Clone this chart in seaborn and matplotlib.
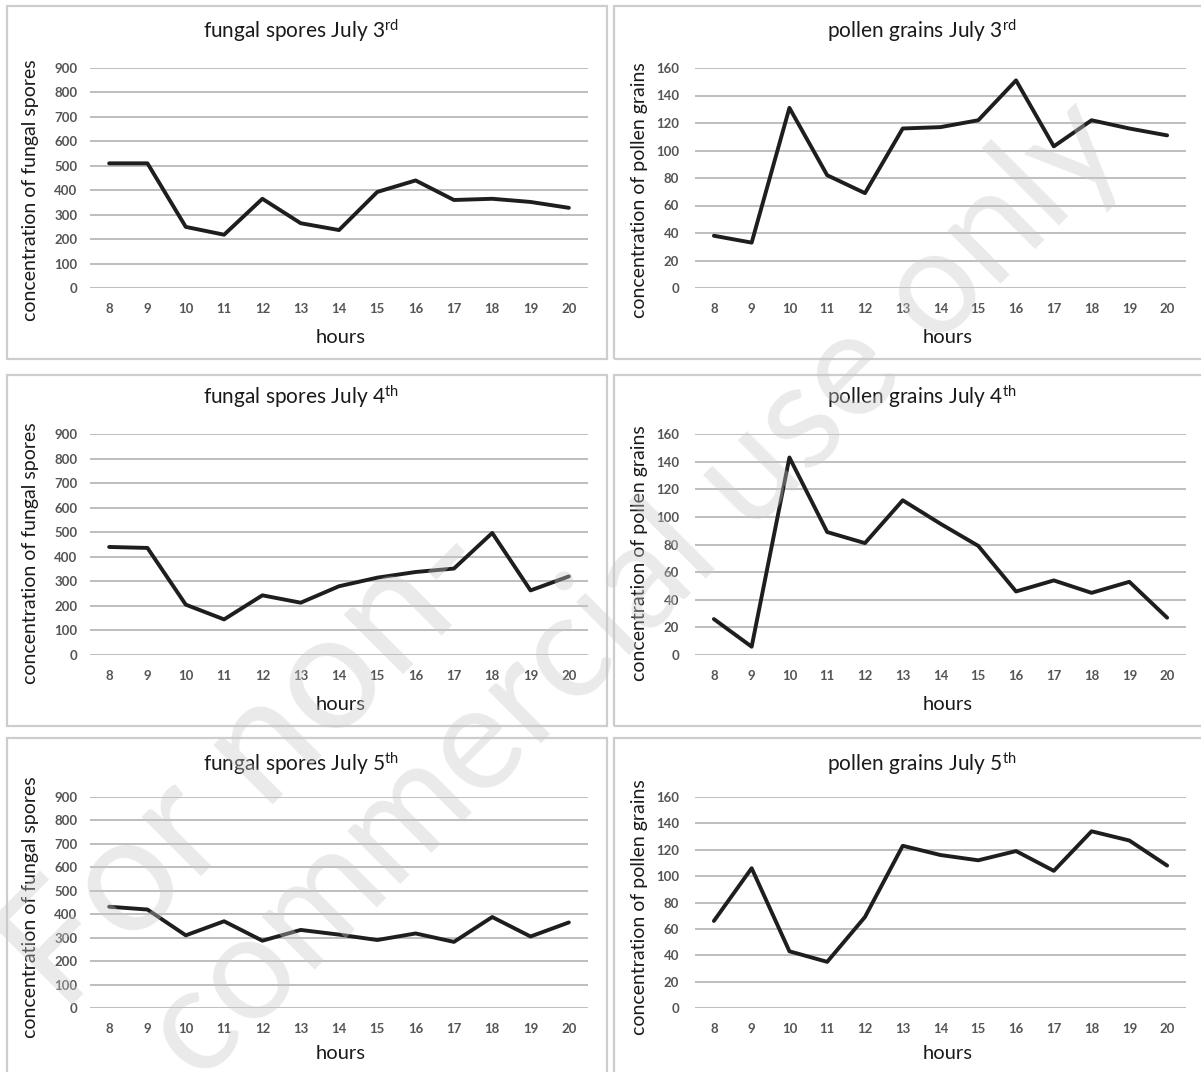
import matplotlib
matplotlib.use("Agg")
import matplotlib.pyplot as plt
import pandas as pd
import seaborn as sns
from matplotlib.patches import Rectangle

# Hourly airborne concentrations, 8:00-20:00
hours = [8, 9, 10, 11, 12, 13, 14, 15, 16, 17, 18, 19, 20]

fungal_jul3 = [510, 510, 250, 218, 365, 265, 237, 393, 440, 360, 365, 352, 328]
fungal_jul4 = [440, 436, 205, 145, 243, 213, 280, 315, 338, 352, 497, 263, 320]
fungal_jul5 = [432, 420, 310, 370, 287, 333, 313, 290, 318, 282, 388, 305, 365]

pollen_jul3 = [38, 33, 131, 82, 69, 116, 117, 122, 151, 103, 122, 116, 111]
pollen_jul4 = [26, 6, 143, 89, 81, 112, 95, 79, 46, 54, 45, 53, 27]
pollen_jul5 = [66, 106, 43, 35, 69, 123, 116, 112, 119, 104, 134, 127, 108]

fungal_ticks = [0, 100, 200, 300, 400, 500, 600, 700, 800, 900]
pollen_ticks = [0, 20, 40, 60, 80, 100, 120, 140, 160]

day_labels = [("3", "rd"), ("4", "th"), ("5", "th")]

sns.set_theme(style="white")
plt.rcParams["font.family"] = ["Lato", "DejaVu Sans"]
plt.rcParams["mathtext.fontset"] = "custom"
plt.rcParams["mathtext.rm"] = "Lato"
plt.rcParams["mathtext.it"] = "Lato:italic"
plt.rcParams["mathtext.bf"] = "Lato:bold"

W, H = 1201, 1072
fig = plt.figure(figsize=(W / 100, H / 100), dpi=100)
fig.patch.set_facecolor("white")


def fx(px):
    return px / W


def fy(py):
    return 1 - py / H


# pixel layout of each chart block: frame box, plot area, title / label anchors
left_col = dict(frame_x=(7, 607), plot_x=(90, 588), title_x=301, ylab_x=31, hours_x=341, ypad=9)
right_col = dict(frame_x=(614, 1206), plot_x=(695, 1186), title_x=922, ylab_x=640, hours_x=948, ypad=11.5)
rows = [
    dict(frame_y=(6, 359), plot_y=(68, 288), title_y=38, ylab_y=190, hours_y=343),
    dict(frame_y=(375, 726), plot_y=(434, 655), title_y=404, ylab_y=553, hours_y=710),
    dict(frame_y=(738, 1080), plot_y=(797, 1008), title_y=771, ylab_y=907, hours_y=1059),
]

fungal_series = [fungal_jul3, fungal_jul4, fungal_jul5]
pollen_series = [pollen_jul3, pollen_jul4, pollen_jul5]

charts = []
for r in range(3):
    charts.append((rows[r], left_col, fungal_series[r], fungal_ticks,
                   "fungal spores", "concentration of fungal spores", day_labels[r]))
    charts.append((rows[r], right_col, pollen_series[r], pollen_ticks,
                   "pollen grains", "concentration of pollen grains", day_labels[r]))

GRID = "#bebebe"
LINE = "#1e1e1e"
TICK = "#555555"
FRAME = "#cdcdcd"
TEXT = "#1a1a1a"

for row, col, values, yticks, name, ylabel, (day, suffix) in charts:
    # outer chart frame
    x0, x1 = col["frame_x"]
    y0, y1 = row["frame_y"]
    fig.add_artist(Rectangle((fx(x0), fy(y1)), fx(x1) - fx(x0), fy(y0) - fy(y1),
                             transform=fig.transFigure, fill=False,
                             edgecolor=FRAME, linewidth=1.6, zorder=0))

    px0, px1 = col["plot_x"]
    py0, py1 = row["plot_y"]
    ax = fig.add_axes([fx(px0), fy(py1), fx(px1) - fx(px0), fy(py0) - fy(py1)])
    ax.set_facecolor("none")

    df = pd.DataFrame({"hour": hours, "value": values})
    sns.lineplot(data=df, x="hour", y="value", ax=ax, color=LINE,
                 linewidth=2.8, zorder=3)

    ax.set_xlim(7.5, 20.5)
    ax.set_ylim(yticks[0], yticks[-1])
    ax.set_xticks(hours)
    ax.set_yticks(yticks)
    ax.set_xticklabels([str(h) for h in hours])
    ax.set_yticklabels([str(t) for t in yticks])
    for spine in ax.spines.values():
        spine.set_visible(False)
    ax.grid(axis="y", color=GRID, linewidth=1.4, zorder=0)
    ax.grid(axis="x", visible=False)
    ax.set_axisbelow(True)
    ax.tick_params(axis="x", length=0, pad=10.5, labelsize=9.5, labelcolor=TICK)
    ax.tick_params(axis="y", length=0, pad=col["ypad"], labelsize=9.5, labelcolor=TICK)
    for lab in ax.get_xticklabels() + ax.get_yticklabels():
        lab.set_fontweight("bold")
    ax.set_xlabel("")
    ax.set_ylabel("")

    fig.text(fx(col["title_x"]), fy(row["title_y"]),
             f"{name} July {day}$^{{\\mathrm{{{suffix}}}}}$",
             ha="center", va="baseline", fontsize=15, color=TEXT)
    fig.text(fx(col["ylab_x"]), fy(row["ylab_y"]), ylabel, rotation=90,
             ha="center", va="center", fontsize=14, color=TEXT)
    fig.text(fx(col["hours_x"]), fy(row["hours_y"]), "hours",
             ha="center", va="baseline", fontsize=14.5, color=TEXT)

# diagonal watermark across the sheet
wm = dict(rotation=45, rotation_mode="anchor", ha="center", va="center",
          fontweight="normal", color="#c8c8c8", alpha=0.38, zorder=20)
fig.text(fx(250), fy(762), "For non-", fontsize=118, **wm)
fig.text(fx(635), fy(590), "commercial use only", fontsize=106, **wm)

fig.savefig("out.png", dpi=100, facecolor="white")
